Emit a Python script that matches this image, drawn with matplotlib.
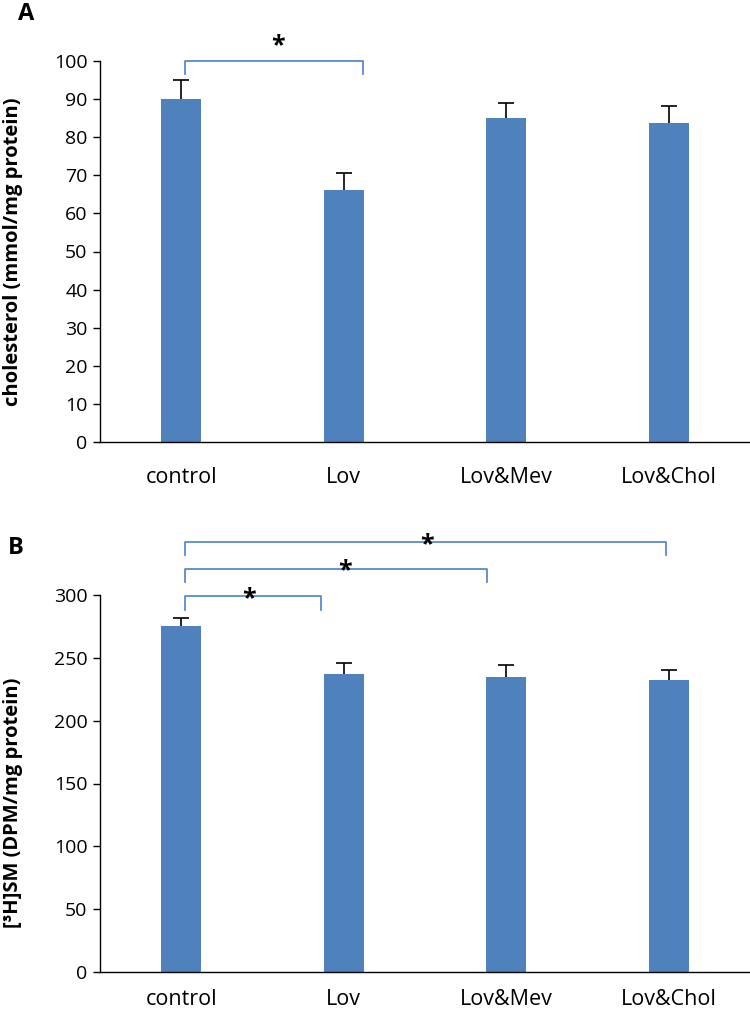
import matplotlib
matplotlib.use("Agg")
import matplotlib.pyplot as plt
import numpy as np

plt.rcParams['font.family'] = ['Open Sans', 'DejaVu Sans']

categories = ["control", "Lov", "Lov&Mev", "Lov&Chol"]

chol_values = [90.0, 66.2, 85.1, 83.8]
chol_errors = [5.0, 4.3, 3.8, 4.3]
chol_ticks = [0, 10, 20, 30, 40, 50, 60, 70, 80, 90, 100]

sm_values = [275.0, 237.0, 235.0, 232.0]
sm_errors = [7.0, 8.5, 9.5, 8.0]
sm_ticks = [0, 50, 100, 150, 200, 250, 300]

BAR = '#4f81bd'
BRK = '#5a8ad0'

fig = plt.figure(figsize=(7.5, 10.16), dpi=100)
W, H = 750, 1016

def make_ax(top_px, bot_px):
    return fig.add_axes([100 / W, 1 - bot_px / H, 650 / W, (bot_px - top_px) / H])

axA = make_ax(61, 442)
axB = make_ax(595, 972)

def draw(ax, vals, errs, ticks, ylabel, xpad):
    x = np.arange(len(categories))
    ax.bar(x, vals, width=0.245, color=BAR, zorder=2)
    eb = ax.errorbar(x, vals, yerr=[np.zeros(len(vals)), errs], fmt='none',
                     ecolor='black', elinewidth=1.2, capsize=5.5, capthick=1.2, zorder=1)
    caps = eb[1]
    for c in caps:
        if np.allclose(c.get_ydata(), vals):
            c.set_visible(False)
    ax.set_xlim(-0.5, 3.5)
    ax.set_ylim(ticks[0], ticks[-1])
    ax.set_yticks(ticks)
    ax.set_xticks(x)
    ax.set_xticklabels(categories, fontsize=15.5)
    ax.tick_params(axis='x', length=0, pad=xpad)
    ax.tick_params(axis='y', direction='out', length=5, width=1.0, labelsize=14, pad=4)
    for s in ['top', 'right']:
        ax.spines[s].set_visible(False)
    ax.spines['left'].set_linewidth(1.0)
    ax.spines['bottom'].set_linewidth(1.0)
    ax.set_ylabel(ylabel, fontsize=14.5, fontweight='bold')

draw(axA, chol_values, chol_errors, chol_ticks, 'cholesterol (mmol/mg protein)', 18)
draw(axB, sm_values, sm_errors, sm_ticks, '[³H]SM (DPM/mg protein)', 12)
axA.yaxis.set_label_coords(-0.118, 0.5)
axB.yaxis.set_label_coords(-0.118, 0.45)

def bracket(ax, x0, x1, ytop, ybot, xs, ys):
    ax.plot([x0, x0, x1, x1], [ybot, ytop, ytop, ybot], color=BRK, lw=1.3,
            clip_on=False, zorder=4)
    ax.text(xs, ys, '*', ha='center', va='center', fontsize=18,
            fontweight='bold', clip_on=False, zorder=5)

bracket(axA, 0.02, 1.12, 100, 96.6, 0.595, 104.0)
bracket(axB, 0.02, 0.86, 299, 288, 0.42, 297)
bracket(axB, 0.02, 1.88, 321, 310, 1.01, 319)
bracket(axB, 0.02, 2.98, 342.5, 332, 1.51, 340)

fig.text(18 / W, 1 - 14 / H, 'A', fontsize=17, fontweight='bold', ha='left', va='center')
fig.text(8 / W, 1 - 548 / H, 'B', fontsize=17, fontweight='bold', ha='left', va='center')

fig.savefig('out.png', dpi=100)
